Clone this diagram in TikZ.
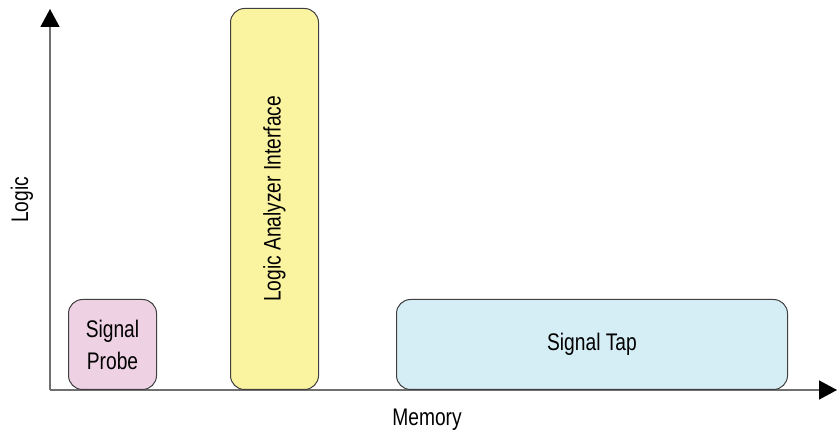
\documentclass[tikz,border=0pt]{standalone}
\usepackage{fontspec}
\setmainfont[FakeStretch=0.8]{Liberation Sans}
\usetikzlibrary{arrows.meta}
\definecolor{pinkfill}{HTML}{EFD1E4}
\definecolor{yellowfill}{HTML}{FAF3A0}
\definecolor{bluefill}{HTML}{D5EDF4}
\definecolor{axisgray}{HTML}{707070}
\definecolor{edgegray}{HTML}{404040}
\tikzset{
  box/.style={draw=edgegray, line width=1pt, rounded corners=14pt, inner sep=0pt, align=center, font=\fontsize{24}{32}\selectfont},
  axis/.style={draw=axisgray, line width=1.6pt, -{Triangle[length=18pt,width=19pt,color=black]}},
  lbl/.style={font=\fontsize{24}{32}\selectfont}
}
\begin{document}
\begin{tikzpicture}[x=1pt,y=1pt]
\useasboundingbox (0,0) rectangle (837,436);
\coordinate (origin) at (50,46);
\coordinate (ytip) at (50,427);
\coordinate (xtip) at (837,46);
\draw[axis] (origin) -- (ytip);
\draw[axis] (origin) -- (xtip);
\node[box, fill=pinkfill, minimum width=88pt, minimum height=90pt, anchor=south west] (probe) at (68,46) {Signal\\Probe};
\node[box, fill=yellowfill, minimum width=88pt, minimum height=381pt, anchor=south west] (lai) at (230,46) {};
\node[lbl, rotate=90] (laitext) at (lai.center) {Logic Analyzer Interface};
\node[box, fill=bluefill, minimum width=391pt, minimum height=90pt, anchor=south west] (tap) at (396,46) {Signal Tap};
\node[lbl, rotate=90] (ylab) at (22,236) {Logic};
\node[lbl] (xlab) at (427,16) {Memory};
\end{tikzpicture}
\end{document}
